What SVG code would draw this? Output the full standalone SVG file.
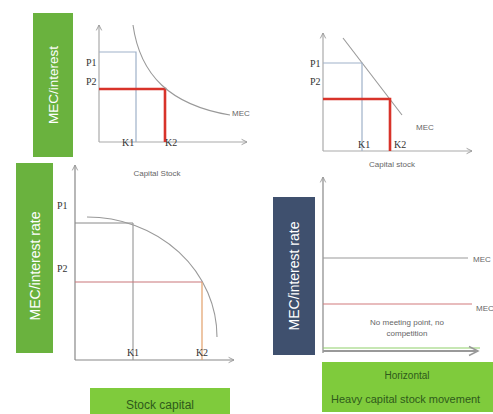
<svg xmlns="http://www.w3.org/2000/svg" width="493" height="414" viewBox="0 0 493 414">
<defs>
<style>
.ax{stroke:#aaa;stroke-width:1.2;fill:none}
.axd{stroke:#888;stroke-width:1.2;fill:none}
.guide{stroke:#9fb1c9;stroke-width:1.2;fill:none}
.red{stroke:#d8332a;stroke-width:2.6;fill:none}
.curve{stroke:#999;stroke-width:1.1;fill:none}
.lbl{font-family:"Liberation Serif",serif;font-size:10px;fill:#333}
.sm{font-family:"Liberation Sans",sans-serif;font-size:8px;fill:#666}
.box{font-family:"Liberation Sans",sans-serif;fill:#fff;text-anchor:middle;dominant-baseline:central}
.gtxt{font-family:"Liberation Sans",sans-serif;fill:#2e5a1b}
</style>
<marker id="arr" viewBox="0 0 8 8" refX="7" refY="4" markerWidth="6" markerHeight="6" orient="auto">
<path d="M1,1 L7,4 L1,7" fill="none" stroke="#999" stroke-width="1"/>
</marker>
</defs>
<rect width="493" height="414" fill="#fff"/>

<g id="panel1">
<rect x="33" y="13" width="40" height="144" fill="#6ab23e"/>
<text class="box" font-size="13.5" transform="translate(53,85) rotate(-90)">MEC/interest</text>
<line class="ax" x1="99" y1="142" x2="99" y2="25" marker-end="url(#arr)"/>
<line class="ax" x1="99" y1="142" x2="247" y2="142" marker-end="url(#arr)"/>
<polyline class="guide" points="99,52 136,52 136,142"/>
<polyline class="red" points="99,89 165,89 165,142"/>
<path class="curve" d="M133,25 C140,75 170,105 230,115"/>
<text class="lbl" x="86" y="66">P1</text>
<text class="lbl" x="86" y="85">P2</text>
<text class="lbl" x="122" y="146">K1</text>
<text class="lbl" x="165" y="146">K2</text>
<text class="sm" x="232" y="116">MEC</text>
<text class="sm" x="157" y="176" text-anchor="middle">Capital Stock</text>
</g>

<g id="panel2">
<line class="ax" x1="323" y1="151" x2="323" y2="33" marker-end="url(#arr)"/>
<line class="ax" x1="323" y1="151" x2="472" y2="151" marker-end="url(#arr)"/>
<line class="curve" x1="343" y1="38" x2="402" y2="115"/>
<polyline class="guide" points="323,63 362,63 362,151"/>
<polyline class="red" points="323,99 390,99 390,151"/>
<text class="lbl" x="310" y="67">P1</text>
<text class="lbl" x="310" y="85">P2</text>
<text class="lbl" x="358" y="148">K1</text>
<text class="lbl" x="394" y="148">K2</text>
<text class="sm" x="416" y="130">MEC</text>
<text class="sm" x="392" y="167" text-anchor="middle">Capital stock</text>
</g>

<g id="panel3">
<rect x="16" y="163" width="37" height="190" fill="#6ab23e"/>
<text class="box" font-size="14" transform="translate(34.5,266) rotate(-90)">MEC/interest rate</text>
<line class="axd" x1="75" y1="360" x2="75" y2="165" marker-end="url(#arr)"/>
<line class="axd" x1="75" y1="360" x2="234" y2="360" marker-end="url(#arr)"/>
<polyline points="75,223 133,223 133,360" fill="none" stroke="#8a8a8a" stroke-width="1"/>
<path class="curve" d="M87,217 A130,120 0 0 1 217,337"/>
<line x1="75" y1="282" x2="202" y2="282" stroke="#c9767a" stroke-width="1.2"/>
<line x1="202" y1="282" x2="202" y2="360" stroke="#e2a06a" stroke-width="1.2"/>
<text class="lbl" x="57" y="209">P1</text>
<text class="lbl" x="57" y="272">P2</text>
<text class="lbl" x="133" y="356" text-anchor="middle">K1</text>
<text class="lbl" x="202" y="356" text-anchor="middle">K2</text>
<rect x="90" y="388" width="140" height="30" fill="#7fcb3c"/>
<text class="gtxt" x="160" y="409" font-size="12" text-anchor="middle">Stock capital</text>
</g>

<g id="panel4">
<rect x="273" y="197" width="42" height="158" fill="#3f506e"/>
<text class="box" font-size="14" transform="translate(294,276) rotate(-90)">MEC/interest rate</text>
<line class="axd" x1="323" y1="353" x2="323" y2="177" marker-end="url(#arr)"/>
<line x1="323" y1="258" x2="468" y2="258" stroke="#999" stroke-width="1.2"/>
<text class="sm" x="473" y="262" font-size="7.5">MEC</text>
<line x1="323" y1="304" x2="472" y2="304" stroke="#d27a7c" stroke-width="1.2"/>
<text class="sm" x="476" y="311" font-size="7">MEC</text>
<text class="sm" x="407" y="325" text-anchor="middle">No meeting point, no</text>
<text class="sm" x="407" y="336" text-anchor="middle">competition</text>
<line x1="323" y1="348" x2="480" y2="348" stroke="#8fcf6a" stroke-width="1.2"/>
<line x1="323" y1="351" x2="478" y2="351" stroke="#999" stroke-width="2" marker-end="url(#arr)"/>
<rect x="322" y="362" width="171" height="50" fill="#7fcb3c"/>
<text class="gtxt" x="407" y="379" font-size="10" text-anchor="middle">Horizontal</text>
<text class="gtxt" x="331" y="403" font-size="11">Heavy capital stock movement</text>
</g>
</svg>
